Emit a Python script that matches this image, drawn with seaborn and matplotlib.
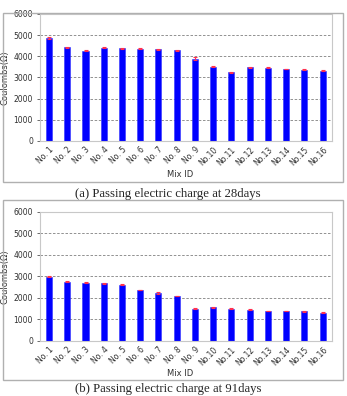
import numpy as np
import pandas as pd
import seaborn as sns
import matplotlib.pyplot as plt
from matplotlib.patches import Rectangle

mix_ids = ["No. 1", "No. 2", "No. 3", "No. 4", "No. 5", "No. 6", "No. 7", "No. 8",
           "No. 9", "No.10", "No.11", "No.12", "No.13", "No.14", "No.15", "No.16"]
charge_28 = [4850, 4420, 4270, 4410, 4380, 4360, 4330, 4280,
             3880, 3500, 3240, 3480, 3450, 3400, 3370, 3320]
err_28 = [40, 20, 20, 20, 30, 20, 20, 20, 70, 20, 20, 30, 20, 20, 30, 40]
charge_91 = [2980, 2760, 2700, 2680, 2620, 2370, 2230, 2090,
             1500, 1560, 1500, 1460, 1390, 1390, 1370, 1320]
err_91 = [30, 30, 20, 30, 30, 20, 40, 20, 20, 20, 20, 20, 20, 20, 20, 20]

captions = ["(a) Passing electric charge at 28days", "(b) Passing electric charge at 91days"]

sns.set_style("white")
plt.rcParams['font.family'] = ['DejaVu Sans']

W, H = 347, 396
fig = plt.figure(figsize=(W / 100, H / 100), dpi=100)

# (values, errors, axes rect, frame in px from top-left, caption y px, xlabel y px)
panels = [
    (charge_28, err_28, [0.115, 0.644, 0.841, 0.321], (3, 13, 340, 169), 194, 174),
    (charge_91, err_91, [0.115, 0.139, 0.841, 0.326], (3, 200, 340, 180), 389, 374),
]

for (vals, errs, rect, frame, cap_y, xl_y), cap in zip(panels, captions):
    # outer grey frame around the chart
    fx, fy, fw, fh = frame
    fig.patches.append(Rectangle((fx / W, 1 - (fy + fh) / H), fw / W, fh / H,
                                 transform=fig.transFigure, fill=False,
                                 edgecolor='#b0b0b0', linewidth=1.0))
    ax = fig.add_axes(rect)
    df = pd.DataFrame({'Mix ID': mix_ids, 'Coulombs': vals})
    sns.barplot(data=df, x='Mix ID', y='Coulombs', color='#0000ff', saturation=1,
                width=0.33, errorbar=None, edgecolor='#3030ff', linewidth=0.4, ax=ax)
    ax.errorbar(np.arange(len(mix_ids)), vals, yerr=errs, fmt='none',
                ecolor='#ff3050', elinewidth=0.8, capsize=1.5, capthick=0.8)
    ax.set_ylim(0, 6000)
    ax.set_yticks(range(0, 6001, 1000))
    ax.set_xlim(-0.5, len(mix_ids) - 0.5)
    for y in range(1000, 6000, 1000):
        ax.axhline(y, color='#808080', linestyle=(0, (3, 2)), linewidth=0.6, zorder=0)
    for s in ax.spines.values():
        s.set_color('#c8c8c8')
        s.set_linewidth(0.8)
    ax.tick_params(axis='y', labelsize=5.5, colors='#303030', length=2, width=0.5,
                   left=True, pad=3)
    ax.tick_params(axis='x', labelsize=5.5, colors='#303030', length=0, pad=3)
    plt.setp(ax.get_xticklabels(), rotation=45, ha='right', rotation_mode='anchor')
    ax.set_xlabel('')
    ax.set_ylabel('Coulombs(Ω)', fontsize=6, color='#303030', labelpad=3)
    fig.text(0.52, 1 - xl_y / H, 'Mix ID', ha='center', va='center', fontsize=6,
             color='#303030')
    fig.text(0.485, 1 - cap_y / H, cap, ha='center', va='center', fontsize=9.2,
             family=['Liberation Serif', 'DejaVu Serif'])

plt.savefig('out.png', dpi=100)
